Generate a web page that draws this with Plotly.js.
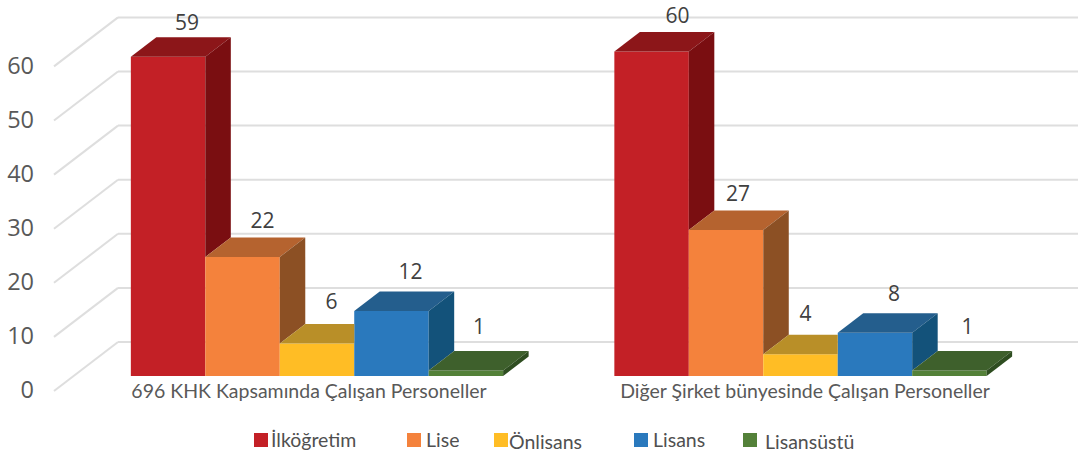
<!DOCTYPE html>
<html><head><meta charset="utf-8">
<script src="https://cdn.plot.ly/plotly-3.0.1.min.js"></script>
<style>html,body{margin:0;padding:0;background:#fff}</style></head>
<body><div id="c" style="width:1078px;height:452px"></div>
<script>
// ---- data ----
const categories = ["696 KHK Kapsamında Çalışan Personeller", "Diğer Şirket bünyesinde Çalışan Personeller"];
const seriesNames = ["İlköğretim", "Lise", "Önlisans", "Lisans", "Lisansüstü"];
const ilkogretim = [59, 60];
const lise = [22, 27];
const onlisans = [6, 4];
const lisans = [12, 8];
const lisansustu = [1, 1];
const yTicks = [0, 10, 20, 30, 40, 50, 60];

// ---- styles ----
const frontColors = ["#C32026", "#F4823C", "#FFBD25", "#2A79BD", "#548139"];
const topColors   = ["#8C1619", "#B5632F", "#B98F28", "#245E8D", "#3E602C"];
const sideColors  = ["#7A0E11", "#8C5024", "#8C6A1C", "#13527A", "#2E4D20"];

// ---- geometry (px of the 1078x452 page) ----
const W = 1078, H = 452;
const pxPerUnit = 5.41, pxPerCat = 483.5;
const plotLeft = 35, plotTop = 4, plotBottom = 396, baseY = 376;
const cat0X = 317;
const barGap = 0.23;
const depthPx = 25.5, risePx = 19.5;
const labelDx = [[19, 20, 14.5, 19, 13], [26, 12, 5, 19, 18]];
const labelGap = [[13, 15, 20, 18, 22], [14, 15, 19, 17, 22]];
const catLabelX = [309, 805];

const all = [ilkogretim, lise, onlisans, lisans, lisansustu];
const xU = px => (px - cat0X) / pxPerCat;
const dX = depthPx / pxPerCat, dY = risePx / pxPerUnit;
const barW = (1 - barGap) / all.length;

const traces = [];
// real bars: the front faces
all.forEach((vals, s) => traces.push({
  type: "bar", name: seriesNames[s], x: [0, 1], y: vals,
  marker: { color: frontColors[s], line: { width: 0 } },
  hoverinfo: "x+y", showlegend: false, xaxis: "x", yaxis: "y"
}));
// the tops and sides, worked out from the values
const poly = (xs, ys, color) => traces.push({
  type: "scatter", mode: "lines", x: xs, y: ys, fill: "toself", fillcolor: color,
  line: { width: 0, color: color }, hoverinfo: "skip", showlegend: false, cliponaxis: false
});
[0, 1].forEach(g => {
  all.forEach((vals, s) => {
    const v = vals[g];
    const next = s < all.length - 1 ? all[s + 1][g] : 0;
    const x0 = g - (1 - barGap) / 2 + s * barW, x1 = x0 + barW;
    // top face: cut where a taller neighbour's front stands
    const xBack = next > v ? x1 : x1 + dX;
    poly([x0, x0 + dX, xBack, x1, x0], [v, v + dY, v + dY, v, v], topColors[s]);
    // side face: only the part above the neighbour
    if (next < v) poly([x1, x1 + dX, x1 + dX, x1, x1], [next, next + dY, v + dY, v, next], sideColors[s]);
  });
});
// value labels
const lx = [], ly = [], lt = [];
[0, 1].forEach(g => all.forEach((vals, s) => {
  const x0 = g - (1 - barGap) / 2 + s * barW;
  lx.push(x0 + barW / 2 + labelDx[g][s] / pxPerCat);
  ly.push(vals[g] + dY + labelGap[g][s] / pxPerUnit);
  lt.push(String(vals[g]));
}));
traces.push({
  type: "scatter", mode: "text", x: lx, y: ly, text: lt, textposition: "middle center",
  textfont: { family: "Open Sans", size: 21, color: "#404040" },
  hoverinfo: "skip", showlegend: false, cliponaxis: false
});
// carrier of the tick labels on the offset value axis
traces.push({
  type: "scatter", mode: "none", x: yTicks.map(() => 0), y: yTicks, yaxis: "y2",
  hoverinfo: "skip", showlegend: false
});

const yMin = (baseY - plotBottom) / pxPerUnit, yMax = (baseY - plotTop) / pxPerUnit;
const tickShift = (390 - baseY) / pxPerUnit;
const wallFrontDy = -(391 - baseY) / pxPerUnit, wallBackDy = (baseY - 342) / pxPerUnit;
const wallFrontX = xU(54), wallBackX = xU(118), wallEndX = xU(1078);

const gridLine = { color: "#DEDEDE", width: 2 };
const shapes = [];
yTicks.forEach(t => {
  shapes.push({ type: "line", layer: "below", xref: "x", yref: "y", x0: wallFrontX, x1: wallBackX,
                y0: t + wallFrontDy, y1: t + wallBackDy, line: gridLine });
  shapes.push({ type: "line", layer: "below", xref: "x", yref: "y", x0: wallBackX, x1: wallEndX,
                y0: t + wallBackDy, y1: t + wallBackDy, line: gridLine });
});
// legend
const swatchX = [254, 407, 494, 634, 743];
const legendTextX = [270, 425, 508, 652, 764];
const legendTextY = [439, 439, 441, 439, 441];
const annotations = [];
seriesNames.forEach((n, s) => {
  shapes.push({ type: "rect", xref: "paper", yref: "paper", x0: swatchX[s] / W, x1: (swatchX[s] + 14) / W,
                y0: 1 - 447 / H, y1: 1 - 433 / H, fillcolor: frontColors[s], line: { width: 0 } });
  annotations.push({ xref: "paper", yref: "paper", x: legendTextX[s] / W, y: 1 - legendTextY[s] / H,
                     xanchor: "left", yanchor: "middle", showarrow: false, text: n,
                     height: Math.min(24, 2 * (451.5 - legendTextY[s])), valign: "middle", borderpad: 0,
                     font: { family: "Lato", size: 19.5, color: "#505050" } });
});

const layout = {
  width: W, height: H, margin: { l: 0, r: 0, t: 0, b: 0 }, showlegend: false,
  paper_bgcolor: "#fff", plot_bgcolor: "rgba(0,0,0,0)",
  barmode: "group", bargap: barGap, bargroupgap: 0,
  xaxis: {
    domain: [plotLeft / W, 1], range: [xU(plotLeft), xU(W)],
    anchor: "free", position: 1 - baseY / H,
    tickmode: "array", tickvals: catLabelX.map(xU), ticktext: categories,
    tickangle: 0, ticks: "", showgrid: false, zeroline: false, showline: false,
    ticklabelstandoff: 1,
    tickfont: { family: "Lato", size: 19.5, color: "#595959" }
  },
  yaxis: {
    domain: [1 - plotBottom / H, 1 - plotTop / H], range: [yMin, yMax],
    showticklabels: false, showgrid: false, zeroline: false, showline: false, ticks: ""
  },
  yaxis2: {
    domain: [1 - plotBottom / H, 1 - plotTop / H], overlaying: "y", anchor: "x", side: "left",
    range: [yMin + tickShift, yMax + tickShift],
    tickmode: "array", tickvals: yTicks, ticks: "", showgrid: false, zeroline: false, showline: false,
    tickfont: { family: "Open Sans", size: 23.5, color: "#595959" }
  },
  shapes, annotations
};
Plotly.newPlot("c", traces, layout, { displayModeBar: false, staticPlot: true });
</script></body></html>
